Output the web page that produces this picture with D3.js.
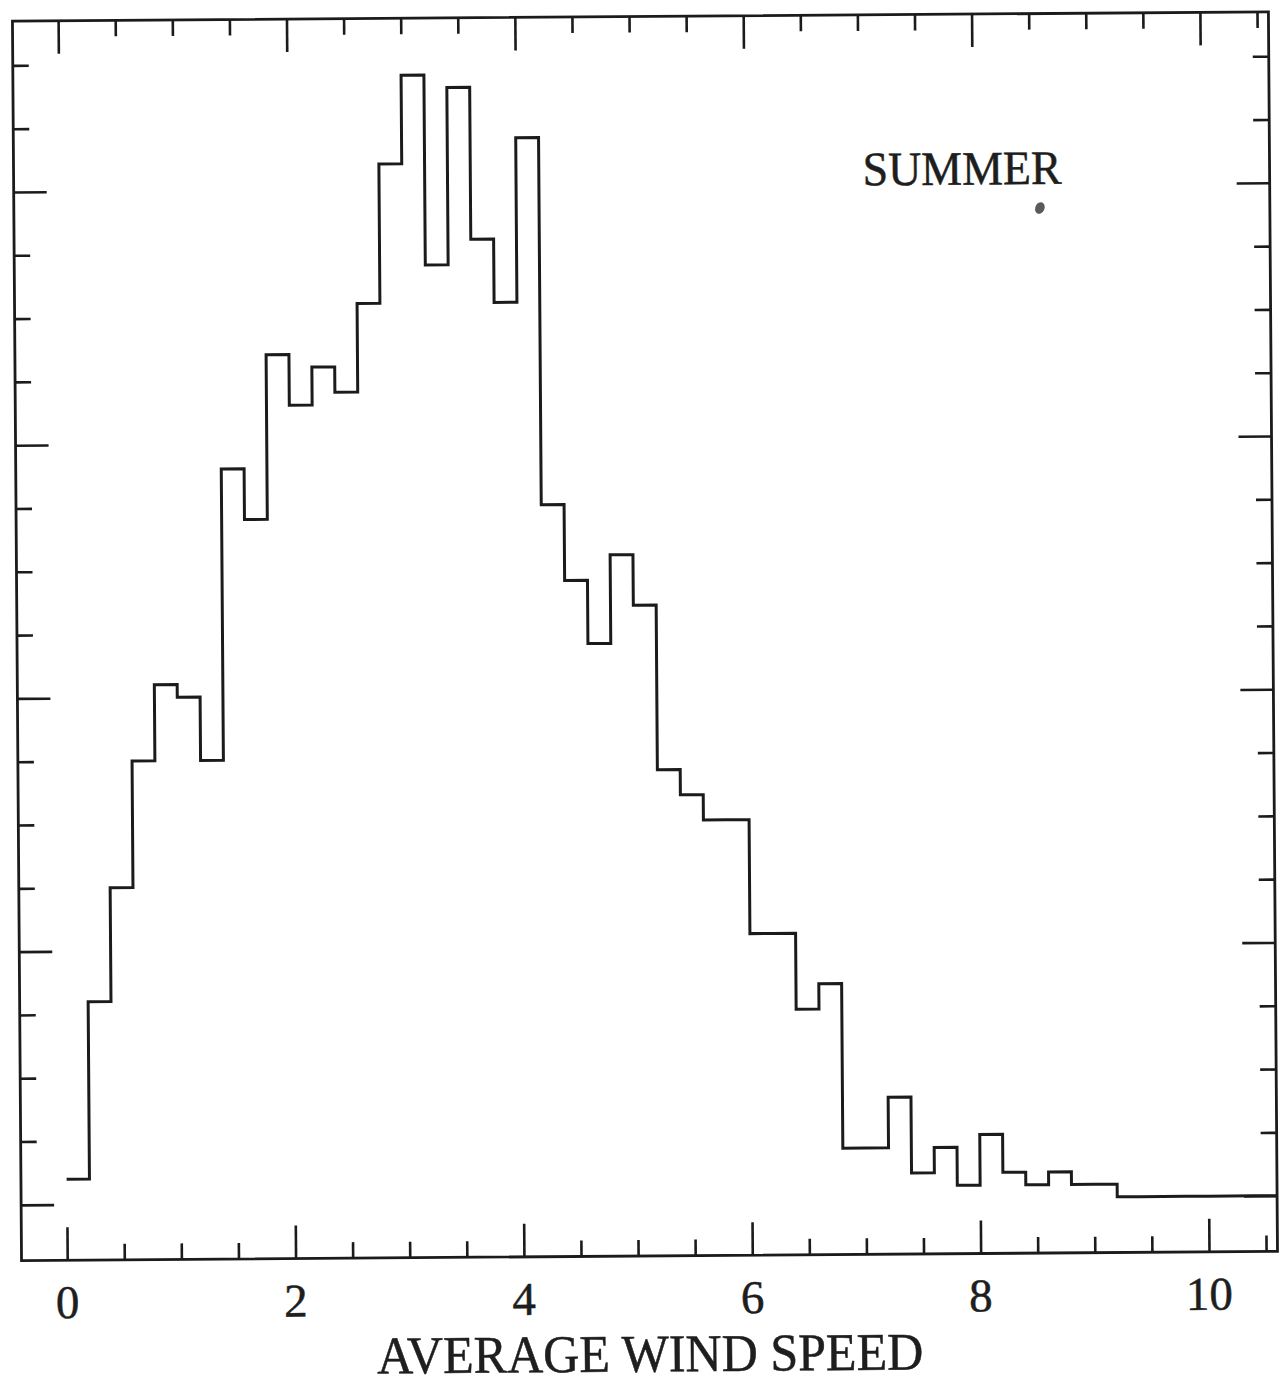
<!DOCTYPE html>
<html>
<head>
<meta charset="utf-8">
<script src="https://cdn.jsdelivr.net/npm/d3@7"></script>
<style>
  html, body { margin: 0; padding: 0; background: #ffffff; }
  svg { display: block; }
  text { font-family: "Liberation Serif", "DejaVu Serif", serif; fill: #1e1e1e; stroke: #1e1e1e; stroke-width: 0.5; }
</style>
</head>
<body>
<svg id="chart" width="1280" height="1383"></svg>
<script>
// Summer histogram of average wind speed, bins 0.2 wide starting at 0
const binWidth = 0.2;
const counts = [
  2, 16, 25, 35, 41, 40, 35, 58, 54, 67,
  63, 66, 64, 71, 82, 89, 74, 88, 76, 71,
  84, 55, 49, 44, 51, 47, 34, 32, 30, 30,
  21, 21, 15, 17, 4, 4, 8, 2, 4, 1,
  5, 2, 1, 2, 1, 1, 0, 0, 0, 0,
  0, 0, 0
];

// Axis ticks
const xMinorTicks = [0, 0.5, 1, 1.5, 2, 2.5, 3, 3.5, 4, 4.5, 5, 5.5, 6, 6.5, 7, 7.5, 8, 8.5, 9, 9.5, 10, 10.5];
const xMajorTicks = [0, 2, 4, 6, 8, 10];
const xTickLabels = ["0", "2", "4", "6", "8", "10"];
const yMinorTicks = [0, 5, 10, 15, 20, 25, 30, 35, 40, 45, 50, 55, 60, 65, 70, 75, 80, 85, 90];
const yMajorTicks = [0, 20, 40, 60, 80];

const xTitle = "AVERAGE WIND SPEED";
const seasonLabel = "SUMMER";

// Plot frame
const frame = { left: 17, right: 1273, top: 16.5, bottom: 1256 };
const majorLen = 33, minorLen = 16;
const ink = "#1b1b1b";

const x = d3.scaleLinear().domain([-0.4, 10.6]).range([frame.left, frame.right]);
const y = d3.scaleLinear().domain([-4.4, 93.5]).range([frame.bottom, frame.top]);

const svg = d3.select("#chart");
// the whole figure is turned by a fraction of a degree
const root = svg.append("g").attr("transform", "rotate(-0.42, 640, 640)");

root.append("defs").append("clipPath").attr("id", "plot-clip")
  .append("rect")
  .attr("x", frame.left).attr("y", frame.top)
  .attr("width", frame.right - frame.left)
  .attr("height", frame.bottom - frame.top);

// Inward-pointing ticks on all four sides
function tickAxis(axis, transform) {
  const g = root.append("g").attr("transform", transform).call(axis);
  g.select(".domain").remove();
  g.selectAll("text").remove();
  g.selectAll("line").attr("stroke", ink).attr("stroke-width", 2.6);
}
const noLabel = () => "";
const xMinorOnly = xMinorTicks.filter(d => !xMajorTicks.includes(d));
const yMinorOnly = yMinorTicks.filter(d => !yMajorTicks.includes(d));
// bottom
tickAxis(d3.axisTop(x).tickValues(xMinorOnly).tickSize(minorLen).tickFormat(noLabel), `translate(0,${frame.bottom})`);
tickAxis(d3.axisTop(x).tickValues(xMajorTicks).tickSize(majorLen).tickFormat(noLabel), `translate(0,${frame.bottom})`);
// top
tickAxis(d3.axisBottom(x).tickValues(xMinorOnly).tickSize(minorLen).tickFormat(noLabel), `translate(0,${frame.top})`);
tickAxis(d3.axisBottom(x).tickValues(xMajorTicks).tickSize(majorLen).tickFormat(noLabel), `translate(0,${frame.top})`);
// left
tickAxis(d3.axisRight(y).tickValues(yMinorOnly).tickSize(minorLen).tickFormat(noLabel), `translate(${frame.left},0)`);
tickAxis(d3.axisRight(y).tickValues(yMajorTicks).tickSize(majorLen).tickFormat(noLabel), `translate(${frame.left},0)`);
// right
tickAxis(d3.axisLeft(y).tickValues(yMinorOnly).tickSize(minorLen).tickFormat(noLabel), `translate(${frame.right},0)`);
tickAxis(d3.axisLeft(y).tickValues(yMajorTicks).tickSize(majorLen).tickFormat(noLabel), `translate(${frame.right},0)`);

// Frame
root.append("rect")
  .attr("x", frame.left).attr("y", frame.top)
  .attr("width", frame.right - frame.left)
  .attr("height", frame.bottom - frame.top)
  .attr("fill", "none").attr("stroke", ink).attr("stroke-width", 2.8);

// Step outline of the histogram
const steps = counts.map((c, i) => [i * binWidth, c]);
steps.push([counts.length * binWidth, 0]);
const stepLine = d3.line()
  .x(d => x(d[0]))
  .y(d => y(d[1]))
  .curve(d3.curveStepAfter);
root.append("path")
  .attr("clip-path", "url(#plot-clip)")
  .attr("d", stepLine(steps))
  .attr("fill", "none")
  .attr("stroke", ink)
  .attr("stroke-width", 3)
  .attr("stroke-linejoin", "miter");

// Tick labels under the bottom axis
root.append("g").selectAll("text")
  .data(xMajorTicks)
  .join("text")
  .attr("x", d => x(d))
  .attr("y", 1314)
  .attr("text-anchor", "middle")
  .attr("font-size", 47)
  .text((d, i) => xTickLabels[i]);

// Axis title
root.append("text")
  .attr("x", 372)
  .attr("y", 1371.5)
  .attr("font-size", 53)
  .attr("textLength", 546)
  .attr("lengthAdjust", "spacingAndGlyphs")
  .text(xTitle);

// Season label with its small ink dot
root.append("text")
  .attr("x", 866)
  .attr("y", 187)
  .attr("font-size", 48)
  .attr("textLength", 199)
  .attr("lengthAdjust", "spacingAndGlyphs")
  .text(seasonLabel);
root.append("ellipse")
  .attr("cx", 1043).attr("cy", 211)
  .attr("rx", 4.6).attr("ry", 6)
  .attr("transform", "rotate(25, 1043, 211)")
  .attr("fill", "#5a5a5a");
</script>
</body>
</html>
